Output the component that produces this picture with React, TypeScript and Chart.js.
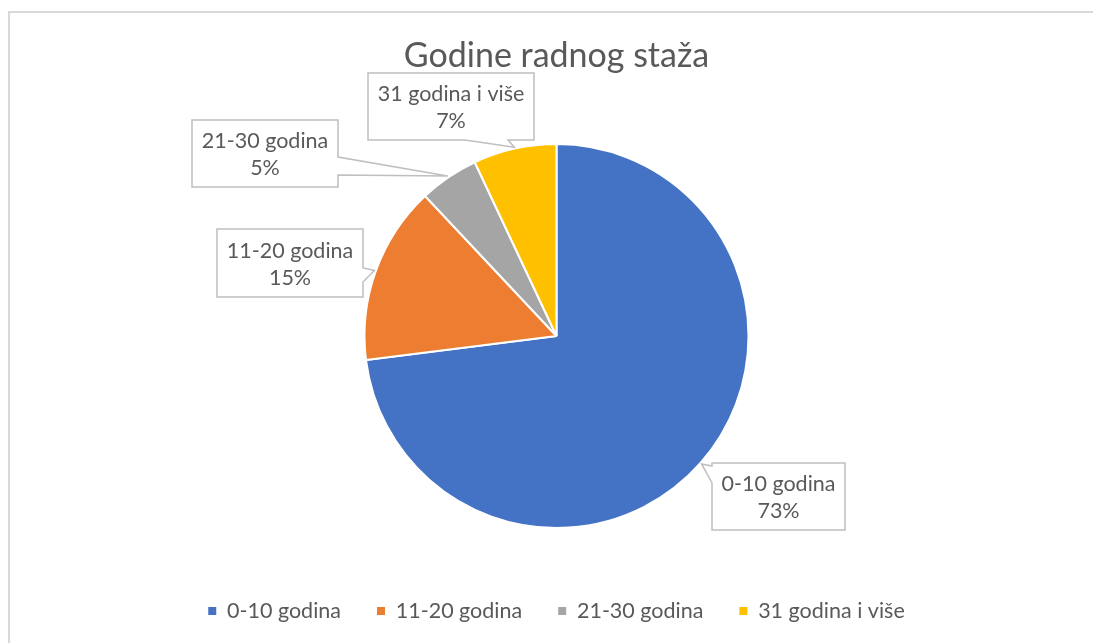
import React, { useEffect, useRef } from "react";
import { Chart, registerables } from "chart.js";

Chart.register(...registerables);

const chartTitle = "Godine radnog staža";
const categories = ["0-10 godina", "11-20 godina", "21-30 godina", "31 godina i više"];
const values = [73, 15, 5, 7];
const percentLabels = ["73%", "15%", "5%", "7%"];
const colors = ["#4472C4", "#ED7D31", "#A5A5A5", "#FFC000"];

const FONT = "Lato, 'Open Sans', 'Noto Sans', sans-serif";
const TEXT_COLOR = "#595959";

// Callout box layout (canvas coordinates), one per slice, with the pointer base on one side
const calloutBoxes = [
  { x: 692, y: 463, w: 133, h: 67, side: "left", b1: 3, b2: 20 },
  { x: 197, y: 229, w: 146, h: 68, side: "right", b1: 39, b2: 53 },
  { x: 172, y: 120, w: 146, h: 67, side: "right", b1: 37, b2: 55 },
  { x: 348, y: 73, w: 166, h: 67, side: "bottom", b1: 97, b2: 140 },
];

const calloutPlugin = {
  id: "callouts",
  afterDatasetsDraw(chart: any) {
    const ctx = chart.ctx;
    const meta = chart.getDatasetMeta(0);
    meta.data.forEach((arc: any, i: number) => {
      const box = calloutBoxes[i];
      if (!box) return;
      const p = arc.getProps(["x", "y", "startAngle", "endAngle", "outerRadius"], true);
      const mid = (p.startAngle + p.endAngle) / 2;
      const r = p.outerRadius + 1.5;
      const tx = p.x + Math.cos(mid) * r;
      const ty = p.y + Math.sin(mid) * r;
      const { x, y, w, h, side, b1, b2 } = box;
      ctx.save();
      ctx.beginPath();
      ctx.moveTo(x, y);
      if (side === "left") {
        ctx.lineTo(x + w, y);
        ctx.lineTo(x + w, y + h);
        ctx.lineTo(x, y + h);
        ctx.lineTo(x, y + b2);
        ctx.lineTo(tx, ty);
        ctx.lineTo(x, y + b1);
        ctx.closePath();
      } else if (side === "right") {
        ctx.lineTo(x + w, y);
        ctx.lineTo(x + w, y + b1);
        ctx.lineTo(tx, ty);
        ctx.lineTo(x + w, y + b2);
        ctx.lineTo(x + w, y + h);
        ctx.lineTo(x, y + h);
        ctx.closePath();
      } else {
        ctx.lineTo(x + w, y);
        ctx.lineTo(x + w, y + h);
        ctx.lineTo(x + b2, y + h);
        ctx.lineTo(tx, ty);
        ctx.lineTo(x + b1, y + h);
        ctx.lineTo(x, y + h);
        ctx.closePath();
      }
      ctx.fillStyle = "#ffffff";
      ctx.fill();
      ctx.lineWidth = 1.5;
      ctx.strokeStyle = "#BFBFBF";
      ctx.stroke();
      ctx.fillStyle = TEXT_COLOR;
      ctx.font = `21.5px ${FONT}`;
      ctx.textAlign = "center";
      ctx.textBaseline = "middle";
      const cx = x + w / 2;
      const cy = y + h / 2;
      ctx.fillText(categories[i], cx, cy - 12);
      ctx.fillText(percentLabels[i], cx, cy + 15);
      ctx.restore();
    });
  },
};

export default function App() {
  const canvasRef = useRef<HTMLCanvasElement | null>(null);

  useEffect(() => {
    const canvas = canvasRef.current;
    if (!canvas) return;
    const baseGen = (Chart as any).overrides.doughnut.plugins.legend.labels.generateLabels;
    const chart = new Chart(canvas, {
      type: "pie",
      data: {
        labels: categories,
        datasets: [
          {
            data: values,
            backgroundColor: colors,
            borderColor: "#ffffff",
            borderWidth: 2,
            radius: 192,
          } as any,
        ],
      },
      options: {
        animation: false,
        responsive: false,
        maintainAspectRatio: false,
        layout: { padding: { top: 0, bottom: 11.25, left: 0, right: 0 } },
        plugins: {
          title: {
            display: true,
            text: chartTitle,
            color: TEXT_COLOR,
            font: { family: FONT, size: 34, weight: "normal" as any, lineHeight: 1.2 },
            padding: { top: 35.6, bottom: 31.35 },
          },
          legend: {
            display: true,
            position: "bottom",
            labels: {
              color: TEXT_COLOR,
              font: { family: FONT, size: 21.5 },
              boxWidth: 8,
              boxHeight: 8,
              usePointStyle: true,
              pointStyle: "rect",
              padding: 36,
              generateLabels: (c: any) =>
                baseGen(c).map((l: any) => ({ ...l, lineWidth: 0, strokeStyle: "rgba(0,0,0,0)", pointStyle: "rect" })),
            },
          },
          tooltip: { enabled: false },
        },
      },
      plugins: [calloutPlugin],
    });
    return () => chart.destroy();
  }, []);

  return (
    <div style={{ position: "fixed", left: 0, top: 0, width: 1093, height: 643, overflow: "hidden", background: "#ffffff" }}>
      <div
        style={{
          position: "absolute",
          left: 8,
          top: 11,
          width: 1110,
          height: 680,
          border: "2px solid #D9D9D9",
          boxSizing: "border-box",
        }}
      />
      <canvas
        ref={canvasRef}
        width={1073}
        height={643}
        style={{ position: "absolute", left: 20, top: 0, width: 1073, height: 643 }}
      />
    </div>
  );
}
